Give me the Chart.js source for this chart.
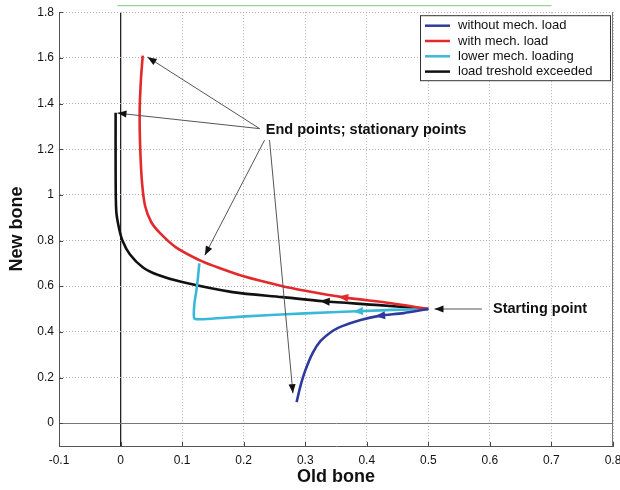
<!DOCTYPE html>
<html>
<head>
<meta charset="utf-8">
<script src="https://cdn.jsdelivr.net/npm/chart.js@4.4.0/dist/chart.umd.min.js"></script>
<style>
  html, body { margin: 0; padding: 0; background: #fff; }
  #wrap { width: 620px; height: 490px; }
</style>
</head>
<body>
<div id="wrap"><canvas id="boneChart"></canvas></div>
<script>
// trajectories in the (old bone, new bone) plane, all starting at (0.5, 0.5)
const withoutMechLoad = [[0.5,0.5],[0.46,0.482],[0.42,0.47],[0.39,0.452],[0.36,0.425],[0.345,0.405],[0.325,0.36],[0.312,0.307],[0.3,0.23],[0.292,0.16],[0.286,0.092]];
const withMechLoad = [[0.5,0.5],[0.44,0.525],[0.36,0.552],[0.3,0.58],[0.26,0.602],[0.2,0.643],[0.15,0.69],[0.128,0.714],[0.09,0.77],[0.065,0.83],[0.05,0.88],[0.04,0.95],[0.035,1.05],[0.032,1.2],[0.031,1.36],[0.033,1.5],[0.036,1.61]];
const lowerMechLoading = [[0.5,0.5],[0.44,0.496],[0.384,0.49],[0.3,0.481],[0.237,0.473],[0.17,0.462],[0.13,0.455],[0.12,0.458],[0.119,0.475],[0.12,0.525],[0.124,0.596],[0.128,0.7]];
const thresholdExceeded = [[0.5,0.5],[0.42,0.517],[0.33,0.534],[0.263,0.552],[0.182,0.574],[0.1,0.618],[0.06,0.65],[0.036,0.683],[0.015,0.74],[0.003,0.8],[-0.003,0.86],[-0.007,0.93],[-0.008,1.1],[-0.008,1.36]];

const xTickValues = [-0.1, 0, 0.1, 0.2, 0.3, 0.4, 0.5, 0.6, 0.7, 0.8];
const yTickValues = [0, 0.2, 0.4, 0.6, 0.8, 1, 1.2, 1.4, 1.6, 1.8];

const FONT = "'Liberation Sans', Arial, sans-serif";

// callouts, in data units
const callouts = {
  endText: { x: 0.236, y: 1.283, text: 'End points; stationary points' },
  startText: { x: 0.605, y: 0.5, text: 'Starting point' },
  arrows: [
    { from: [0.226, 1.29], to: [0.044, 1.603] },
    { from: [0.226, 1.29], to: [-0.005, 1.358] },
    { from: [0.234, 1.24], to: [0.137, 0.736] },
    { from: [0.242, 1.24], to: [0.28, 0.131] },
    { from: [0.587, 0.5], to: [0.51, 0.5] }
  ]
};

function toXY(pairs) {
  return pairs.map(p => ({ x: p[0], y: p[1] }));
}

function series(label, pairs, color, arrowAt) {
  return {
    label: label,
    data: toXY(pairs),
    borderColor: color,
    backgroundColor: color,
    borderWidth: 2.6,
    pointRadius: 0,
    tension: 0.3,
    fill: false,
    arrowAt: arrowAt
  };
}

function arrowHead(ctx, x1, y1, x2, y2, len, half, color) {
  const a = Math.atan2(y2 - y1, x2 - x1);
  ctx.save();
  ctx.fillStyle = color;
  ctx.translate(x2, y2);
  ctx.rotate(a);
  ctx.beginPath();
  ctx.moveTo(0, 0);
  ctx.lineTo(-len, -half);
  ctx.lineTo(-len, half);
  ctx.closePath();
  ctx.fill();
  ctx.restore();
}

const decorations = {
  id: 'decorations',
  afterDatasetsDraw(chart) {
    const { ctx, chartArea, scales: { x, y } } = chart;

    // direction arrows along each trajectory
    chart.data.datasets.forEach((ds, i) => {
      const pts = chart.getDatasetMeta(i).data;
      const k = ds.arrowAt;
      if (!k || !pts[k]) return;
      const p = pts[k], q = pts[k - 1];
      const dx = p.x - q.x, dy = p.y - q.y, d = Math.hypot(dx, dy);
      arrowHead(ctx, p.x - dx / d, p.y - dy / d, p.x + dx / d * 4, p.y + dy / d * 4, 10, 4, ds.borderColor);
    });

    // callout arrows
    ctx.save();
    ctx.strokeStyle = '#555';
    ctx.lineWidth = 1;
    callouts.arrows.forEach(a => {
      const x1 = x.getPixelForValue(a.from[0]), y1 = y.getPixelForValue(a.from[1]);
      const x2 = x.getPixelForValue(a.to[0]), y2 = y.getPixelForValue(a.to[1]);
      ctx.beginPath();
      ctx.moveTo(x1, y1);
      ctx.lineTo(x2, y2);
      ctx.stroke();
      arrowHead(ctx, x1, y1, x2, y2, 9, 3.5, '#111');
    });

    ctx.fillStyle = '#111';
    ctx.font = 'bold 14.5px ' + FONT;
    ctx.textBaseline = 'middle';
    ctx.textAlign = 'left';
    [callouts.endText, callouts.startText].forEach(t => {
      ctx.fillText(t.text, x.getPixelForValue(t.x), y.getPixelForValue(t.y));
    });

    // thin green rule above the plot
    ctx.strokeStyle = '#7cc87c';
    ctx.beginPath();
    ctx.moveTo(x.getPixelForValue(-0.005), chartArea.top - 6.5);
    ctx.lineTo(x.getPixelForValue(0.7), chartArea.top - 6.5);
    ctx.stroke();

    // right edge of the axes box
    ctx.strokeStyle = '#777';
    ctx.beginPath();
    ctx.moveTo(Math.round(chartArea.right) - 0.5, chartArea.top);
    ctx.lineTo(Math.round(chartArea.right) - 0.5, chartArea.bottom);
    ctx.stroke();

    // inward tick marks
    ctx.strokeStyle = '#444';
    ctx.beginPath();
    yTickValues.forEach(v => {
      const py = Math.round(y.getPixelForValue(v)) + 0.5;
      ctx.moveTo(chartArea.left, py);
      ctx.lineTo(chartArea.left + 4, py);
    });
    xTickValues.forEach(v => {
      const px = Math.round(x.getPixelForValue(v)) + 0.5;
      ctx.moveTo(px, chartArea.bottom);
      ctx.lineTo(px, chartArea.bottom - 4);
    });
    ctx.stroke();

    // legend box, upper right
    const bw = 190, bh = 65;
    const bx = chartArea.right - bw - 3, by = chartArea.top + 3;
    ctx.fillStyle = '#fff';
    ctx.fillRect(bx, by, bw, bh);
    ctx.strokeStyle = '#333';
    ctx.strokeRect(bx + 0.5, by + 0.5, bw, bh);
    ctx.font = '13px ' + FONT;
    chart.data.datasets.forEach((ds, i) => {
      const ry = by + 10.5 + i * 15.3;
      ctx.strokeStyle = ds.borderColor;
      ctx.lineWidth = 2.5;
      ctx.beginPath();
      ctx.moveTo(bx + 5, ry);
      ctx.lineTo(bx + 30, ry);
      ctx.stroke();
      ctx.fillStyle = '#111';
      ctx.fillText(ds.label, bx + 38, ry);
    });
    ctx.restore();
  }
};

new Chart(document.getElementById('boneChart').getContext('2d'), {
  type: 'line',
  data: {
    datasets: [
      series('without mech. load', withoutMechLoad, '#2e3a9e', 2),
      series('with mech. load', withMechLoad, '#e3292b', 2),
      series('lower mech. loading', lowerMechLoading, '#3ab8d8', 2),
      series('load treshold exceeded', thresholdExceeded, '#111111', 2)
    ]
  },
  options: {
    responsive: true,
    maintainAspectRatio: false,
    animation: false,
    layout: { padding: { top: 12, right: 7, left: 0, bottom: 0 } },
    plugins: { legend: { display: false }, tooltip: { enabled: false } },
    scales: {
      x: {
        type: 'linear',
        min: -0.1,
        max: 0.8,
        afterBuildTicks: s => { s.ticks = xTickValues.map(v => ({ value: v })); },
        afterFit: s => { s.paddingRight = 0; s.paddingLeft = 0; s.height = 44; },
        ticks: { font: { family: FONT, size: 12 }, color: '#111', padding: 7, maxRotation: 0, autoSkip: false, callback: v => String(v) },
        grid: {
          drawTicks: false,
          color: c => (c.tick && c.tick.value === 0 ? '#222' : '#b0b0b0'),
          lineWidth: c => (c.tick && c.tick.value === 0 ? 1.3 : 1)
        },
        border: { color: '#555', dash: c => (c.tick && c.tick.value === 0 ? [] : [1, 2]) },
        title: { display: true, text: 'Old bone', color: '#111', font: { family: FONT, size: 18, weight: 'bold' }, padding: { top: 2, bottom: 2 } }
      },
      y: {
        type: 'linear',
        min: -0.1,
        max: 1.8,
        afterBuildTicks: s => { s.ticks = yTickValues.map(v => ({ value: v })); },
        afterFit: s => { s.width = 59; },
        ticks: { font: { family: FONT, size: 12 }, color: '#111', padding: 5, callback: v => String(v) },
        grid: {
          drawTicks: false,
          color: c => (c.tick && c.tick.value === 0 ? '#777' : '#b0b0b0')
        },
        border: { color: '#555', dash: c => (c.tick && c.tick.value === 0 ? [] : [1, 2]) },
        title: { display: true, text: 'New bone', color: '#111', font: { family: FONT, size: 18, weight: 'bold' }, padding: { top: 6, bottom: 0 } }
      }
    }
  },
  plugins: [decorations]
});
</script>
</body>
</html>
